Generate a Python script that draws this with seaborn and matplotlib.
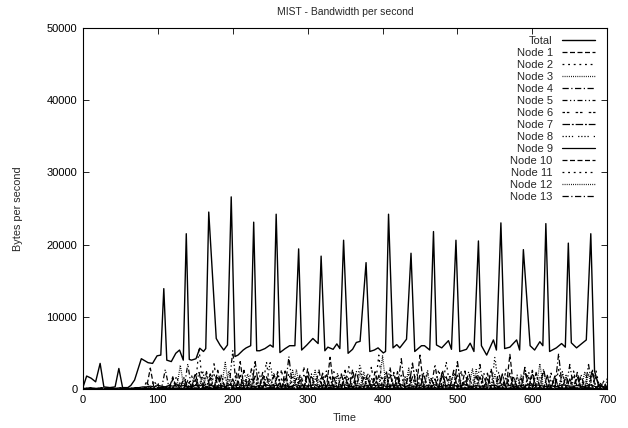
import numpy as np
import pandas as pd
import seaborn as sns
import matplotlib.pyplot as plt

# ---- data (bytes per second) ----
total_time = [0, 5, 11, 17, 23, 28, 36, 43, 48, 53, 60, 64, 69, 78, 87, 93, 99, 104,
              108, 112, 118, 124, 129, 134, 138, 142, 145, 151, 156, 161, 164,
              168, 178, 183, 188, 193, 198, 203, 207, 214, 218, 224, 228, 232,
              236, 243, 250, 254, 258, 263, 270, 276, 283, 288, 292, 299, 307,
              314, 318, 323, 327, 334, 339, 343, 348, 354, 360, 365, 370, 378,
              383, 389, 394, 401, 404, 408, 414, 419, 423, 432, 438, 443, 452,
              456, 463, 468, 472, 479, 488, 492, 498, 503, 512, 517, 522, 528,
              532, 539, 548, 552, 558, 563, 570, 579, 583, 588, 597, 603, 610,
              614, 618, 623, 632, 639, 644, 648, 652, 659, 666, 672, 678, 683,
              688, 695, 700]
total_bytes = [200, 1800, 1500, 1000, 3550, 300, 200, 300, 2850, 200, 200, 500, 1250,
               4200, 3650, 3550, 4600, 4700, 13900, 4000, 3800, 4950, 5400, 4000,
               21500, 4100, 4000, 4200, 5650, 5200, 5600, 24500, 7000, 6100, 5400,
               6100, 26600, 4500, 4700, 5400, 5700, 6000, 23100, 5300, 5300, 5600,
               6100, 5800, 24200, 5050, 5600, 6000, 6000, 19400, 5400, 6100, 7000,
               6300, 18400, 5300, 5800, 5500, 6250, 5600, 20600, 4950, 5500, 6450,
               6600, 17500, 5200, 5400, 5700, 5000, 5200, 24200, 5700, 6150, 5700,
               6900, 18800, 5200, 6000, 6000, 5400, 21800, 6100, 5700, 6700, 5500,
               20600, 5200, 5500, 6350, 5200, 20500, 6000, 4700, 6800, 5400, 23000,
               5600, 5800, 6800, 5400, 19300, 6000, 5400, 6550, 6000, 22900, 5200,
               5700, 6300, 5800, 20200, 6400, 5700, 6300, 6800, 21500, 2500, 600,
               300, 200]

# per-node samples every 5 s (values in hundreds of bytes)
node_time = list(range(0, 705, 5))
node_1 = [0,0,1,0,0,0, 0,1,0,0,0,1, 0,0,1,0,1,2, 29,1,0,2,1,0, 14,2,1,0,1,1, 22,1,0,1,2,0,
          18,0,2,1,0,1, 38,1,0,0,2,1, 16,2,1,0,1,0, 25,0,1,2,0,1, 20,1,0,1,1,2, 17,0,2,0,1,0,
          27,1,0,1,0,2, 15,2,1,0,1,0, 24,0,0,2,1,1, 19,1,2,0,0,1, 26,0,1,1,2,0, 13,2,0,1,0,1,
          22,1,1,0,2,0, 48,0,2,1,0,1, 20,1,0,0,1,2, 16,2,1,0,0,1, 23,0,1,2,1,0, 9,1,0]
node_2 = [0,0,0,1,0,0, 1,0,0,0,1,0, 0,1,0,0,0,1, 1,12,0,1,0,2, 0,18,1,0,2,0, 1,57,0,2,1,0,
          2,20,1,0,0,1, 0,15,2,1,0,1, 1,38,0,0,2,0, 0,22,1,2,0,1, 2,17,0,1,1,0, 1,24,2,0,0,1,
          0,14,1,1,2,0, 1,47,0,2,0,1, 2,19,1,0,1,0, 0,23,0,1,2,1, 1,38,2,0,0,1, 0,16,1,2,1,0,
          2,25,0,1,0,1, 1,18,1,0,2,0, 0,21,2,1,0,1, 1,27,0,0,1,2, 0,15,1,2,0,1, 1,10,0]
node_3 = [0,0,0,0,1,0, 0,0,1,0,0,0, 1,0,0,1,0,0, 0,1,8,0,1,1, 2,0,33,1,0,1, 0,1,17,2,1,0,
          1,2,37,0,1,0, 0,1,21,1,0,2, 2,0,14,0,1,1, 1,1,26,2,0,0, 0,2,26,1,1,0, 1,0,19,0,2,1,
          2,1,23,1,0,0, 0,2,46,0,1,1, 1,0,18,2,0,1, 0,1,22,1,2,0, 2,0,15,0,1,1, 1,1,28,1,0,2,
          0,2,20,0,1,0, 1,0,17,2,1,1, 2,1,35,0,0,1, 0,1,21,1,2,0, 1,0,24,0,1,1, 0,1,12]
node_4 = [0,1,0,0,0,0, 0,0,0,1,0,0, 0,0,1,0,0,1, 1,0,1,3,0,1, 0,1,2,16,1,0, 1,0,1,24,0,2,
          2,1,0,13,1,0, 0,2,1,28,0,1, 1,0,0,19,2,1, 0,1,2,15,1,0, 1,0,1,27,0,2, 2,1,0,21,1,0,
          0,0,1,16,2,1, 1,2,0,25,0,1, 0,1,1,20,1,0, 2,0,0,14,2,1, 1,1,2,26,0,0, 0,2,1,18,1,1,
          1,0,0,23,2,0, 2,1,1,15,0,1, 0,0,2,28,1,1, 1,1,0,19,0,2, 0,2,1,34,1,0, 1,0,0]
node_5 = [1,0,0,0,0,1, 0,0,1,0,0,0, 0,1,0,0,1,0, 1,0,2,1,27,1, 0,2,1,0,35,1, 1,0,1,2,21,0,
          2,1,0,1,53,1, 0,1,2,0,18,2, 1,0,1,1,24,0, 2,1,0,2,20,1, 0,2,1,0,16,1, 1,0,0,1,26,2,
          0,1,2,0,22,0, 1,2,0,1,30,1, 2,0,1,0,17,1, 0,1,0,2,34,0, 1,0,2,1,21,1, 0,2,1,0,34,2,
          1,1,0,1,19,0, 2,0,1,0,26,1, 0,1,2,1,17,0, 1,0,0,2,34,1, 0,2,1,0,22,1, 1,0,1]
node_6 = [0,0,1,0,0,0, 0,1,0,0,0,1, 0,0,0,1,0,10, 1,0,1,0,2,6, 0,1,0,2,1,19, 2,0,1,0,1,35,
          1,2,0,1,0,22, 0,1,1,0,2,17, 1,0,2,1,0,26, 2,1,0,0,1,30, 0,0,1,2,1,21, 1,2,0,1,0,15,
          0,1,1,0,2,30, 2,0,0,1,1,23, 1,1,2,0,0,27, 0,2,1,1,0,18, 1,0,0,2,1,24, 2,1,1,0,0,20,
          0,0,2,1,1,28, 1,2,0,0,2,16, 0,1,1,2,0,22, 2,0,0,1,1,25, 1,1,2,0,0,19, 0,1,0]
node_7 = [0,0,0,1,0,0, 1,0,0,0,0,0, 0,0,1,0,0,1, 0,1,0,1,3,0, 1,0,1,0,12,1, 0,2,0,1,16,0,
          1,0,2,0,14,2, 2,1,0,1,38,0, 0,0,1,2,19,1, 1,2,0,0,13,1, 0,1,2,1,22,0, 2,0,1,0,18,1,
          1,1,0,2,15,0, 0,2,1,0,20,2, 1,0,0,1,36,1, 2,1,2,0,14,0, 0,0,1,1,38,1, 1,2,0,0,17,1,
          0,1,1,2,21,0, 2,0,0,1,30,2, 1,1,2,0,19,0, 0,2,1,1,14,1, 1,0,0,2,27,0, 0,0,1]
node_8 = [0,1,0,0,0,0, 0,0,0,0,1,0, 1,0,0,0,0,1, 0,0,2,1,0,1, 1,1,10,0,2,0, 0,2,25,1,0,1,
          2,0,16,0,1,1, 1,1,12,2,0,0, 0,2,38,1,1,0, 1,0,18,0,2,1, 2,1,14,1,0,0, 0,0,22,2,1,1,
          1,2,35,0,0,2, 0,1,17,1,2,0, 2,0,13,0,1,1, 1,1,26,2,0,0, 0,2,19,1,1,1, 1,0,15,0,2,0,
          2,1,45,1,0,1, 0,0,20,2,1,0, 1,2,16,0,0,1, 0,1,24,1,2,0, 2,0,13,0,1,1, 1,1,15]
node_9 = [1,1,2,1,1,2, 1,2,1,1,2,1, 1,1,2,2,3,3, 4,3,5,4,3,5, 4,6,4,5,3,4, 5,4,6,3,5,4,
          4,5,3,6,4,5, 6,4,5,4,3,5, 4,6,4,5,5,3, 5,3,4,6,4,5, 4,5,6,3,5,4, 5,4,3,5,6,4,
          3,5,4,4,5,6, 5,4,6,3,4,5, 4,6,3,5,4,4, 5,3,5,4,6,3, 4,5,4,6,3,5, 6,4,3,5,4,4,
          4,5,5,3,6,4, 5,3,4,5,4,6, 4,6,5,4,3,5, 3,4,6,5,4,4, 5,4,3,6,5,3, 4,3,2]
node_10 = [0,0,0,0,1,0, 0,0,1,0,0,0, 0,1,0,0,0,1, 2,0,1,0,1,0, 17,1,0,2,0,1, 13,0,2,1,1,0,
           26,2,0,0,1,1, 19,1,1,2,0,0, 23,0,2,0,1,1, 15,1,0,1,2,0, 28,2,1,0,0,1, 44,0,0,1,2,1,
           18,1,2,0,1,0, 24,2,0,1,0,1, 16,0,1,2,1,0, 47,1,0,0,2,1, 20,2,1,1,0,0, 25,0,2,0,1,1,
           14,1,0,2,0,1, 22,0,1,1,2,0, 26,2,0,0,1,1, 18,1,1,2,0,0, 17,0,2,1,1,0, 6,1,0]
node_11 = [0,0,0,0,0,1, 0,1,0,0,1,0, 1,0,0,1,0,4, 0,1,0,1,1,2, 1,0,2,0,1,8, 0,1,1,2,0,20,
           2,0,0,1,1,17, 1,2,1,0,0,24, 0,1,0,2,1,14, 1,0,2,1,0,19, 2,1,0,0,2,25, 0,0,1,2,1,31,
           1,2,0,1,0,16, 0,1,2,0,1,21, 2,0,1,1,0,14, 1,1,0,2,1,27, 0,2,1,0,2,13, 1,0,2,1,0,23,
           2,1,0,0,1,18, 0,1,1,2,0,24, 1,0,2,1,1,15, 2,2,0,0,1,20, 0,1,1,1,2,25, 1,0,0]
node_12 = [1,0,0,0,0,0, 0,0,0,1,0,0, 0,1,0,0,1,0, 1,0,0,2,0,1, 0,1,1,14,2,0, 2,0,1,19,0,1,
           1,1,0,25,1,2, 0,2,1,15,0,1, 1,0,2,22,1,0, 2,1,0,27,0,1, 0,1,1,13,2,0, 1,2,0,20,1,1,
           0,0,2,24,0,1, 2,1,0,18,1,0, 1,0,1,29,2,1, 0,2,0,16,1,0, 1,1,2,22,0,1, 2,0,1,27,1,0,
           0,1,0,15,2,1, 1,2,1,20,0,0, 2,0,0,24,1,1, 0,1,2,17,0,2, 1,0,1,21,2,0, 0,1,0]
node_13 = [0,0,1,0,0,0, 0,0,0,0,0,1, 1,0,0,1,0,0, 0,2,1,0,1,0, 1,9,0,1,0,2, 0,23,2,0,1,1,
           2,18,0,1,2,0, 1,26,1,0,0,1, 0,17,2,1,1,0, 1,45,0,2,0,1, 2,21,1,0,1,0, 0,16,0,1,2,1,
           1,25,2,0,0,1, 2,19,1,1,0,0, 0,42,0,2,1,1, 1,20,2,0,1,0, 2,17,0,1,0,2, 0,24,1,0,2,1,
           1,28,0,2,1,0, 2,16,1,0,0,1, 0,23,2,1,1,0, 1,49,0,0,2,1, 2,20,1,1,0,0, 0,11,1]

nodes = [node_1, node_2, node_3, node_4, node_5, node_6, node_7,
         node_8, node_9, node_10, node_11, node_12, node_13]
node_names = [f"Node {i}" for i in range(1, 14)]

# gnuplot-like dash patterns (lt 2..9, then cycle back)
node_dashes = [(4, 2), (1.5, 3), (0.7, 1.0), (5, 2, 1, 2), (4, 2, 1, 2, 1, 2),
               (2, 1.5, 2, 5), (6, 1.5, 1.5, 1.5), (1, 1.5, 1, 1.5, 1, 1.5, 1, 4),
               None, (4, 2), (1.5, 3), (0.7, 1.0), (5, 2, 1, 2)]

sns.set_style("ticks")
plt.rcParams['font.family'] = ['Liberation Sans', 'DejaVu Sans']

fig, ax = plt.subplots(figsize=(6.28, 4.28), dpi=100)
fig.subplots_adjust(left=0.132, right=0.967, bottom=0.091, top=0.935)

total_df = pd.DataFrame({"Time": total_time, "Bytes": total_bytes})
sns.lineplot(data=total_df, x="Time", y="Bytes", ax=ax, color="black",
             linewidth=1.0, estimator=None, errorbar=None, label="Total")

for name, vals, dash in zip(node_names, nodes, node_dashes):
    df = pd.DataFrame({"Time": node_time, "Bytes": np.array(vals) * 100})
    ls = "-" if dash is None else (0, dash)
    sns.lineplot(data=df, x="Time", y="Bytes", ax=ax, color="black",
                 linewidth=0.9, linestyle=ls, estimator=None, errorbar=None,
                 label=name)

ax.set_xlim(0, 700)
ax.set_ylim(0, 50000)
ax.set_xticks(range(0, 701, 100))
ax.set_yticks(range(0, 50001, 10000))
ax.tick_params(direction="in", top=True, right=True, length=4.5, width=0.6,
               labelsize=8, colors="black", pad=4)
for sp in ax.spines.values():
    sp.set_linewidth(0.8)
    sp.set_color("black")

ax.set_title("MIST - Bandwidth per second", fontsize=7.5, pad=9)
ax.set_xlabel("Time", fontsize=7.8, labelpad=6)
ax.set_ylabel("Bytes per second", fontsize=7.8, labelpad=17)

ax.legend(loc="upper right", bbox_to_anchor=(0.985, 0.99), borderaxespad=0,
          frameon=False, markerfirst=False, handlelength=3.0, handletextpad=0.8,
          labelspacing=0.18, fontsize=8)

plt.savefig("out.png", dpi=100)
plt.close()
